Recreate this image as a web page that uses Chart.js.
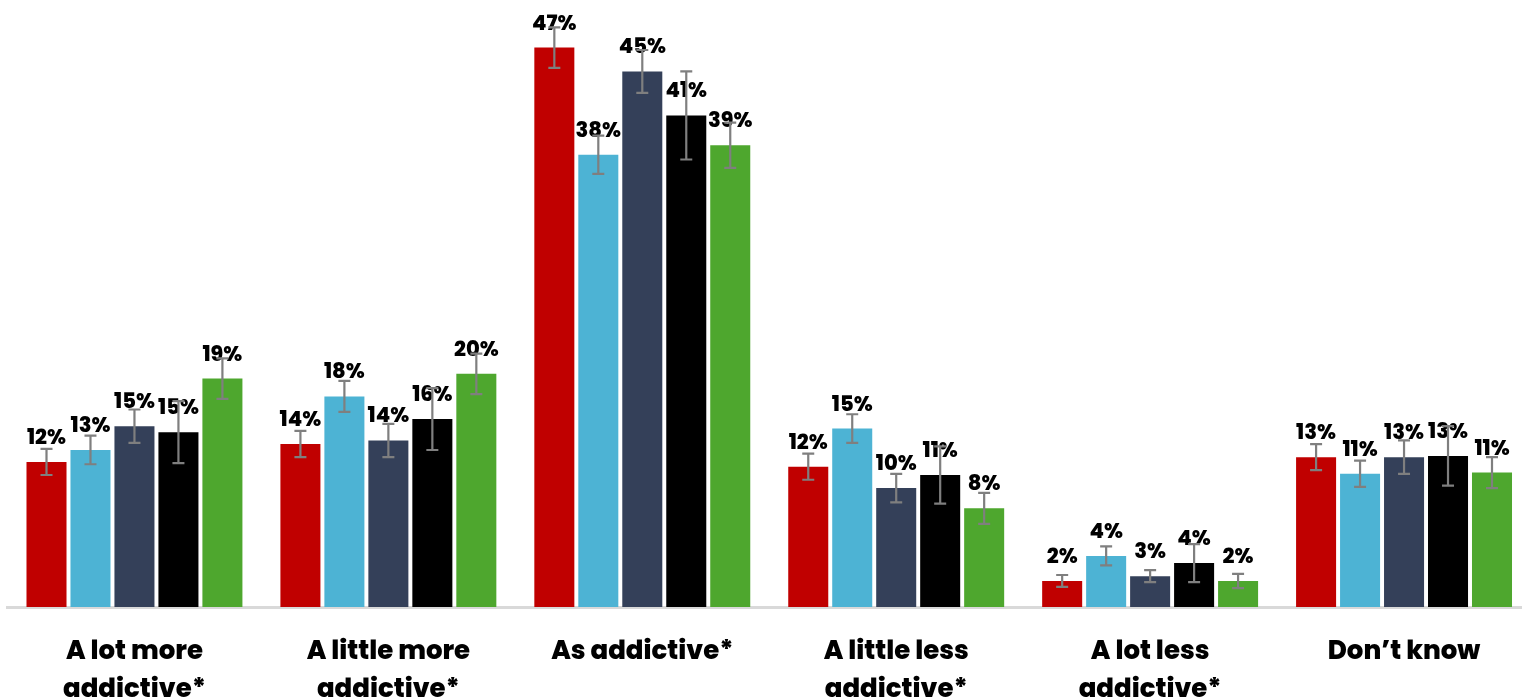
<!DOCTYPE html>
<html lang="en">
<head>
<meta charset="UTF-8">
<title>How addictive</title>
<style>
  * { margin: 0; padding: 0; box-sizing: border-box; }
  html, body { width: 1522px; height: 700px; overflow: hidden; background: #fff; }
  .wrap { position: relative; width: 1531px; height: 736px; }
</style>
<script src="https://cdn.jsdelivr.net/npm/chart.js"></script>
</head>
<body>
<div class="wrap"><canvas id="chart"></canvas></div>
<script>
// categories along the x axis
const categories = [
  ['A lot more', 'addictive*'],
  ['A little more', 'addictive*'],
  'As addictive*',
  ['A little less', 'addictive*'],
  ['A lot less', 'addictive*'],
  'Don\u2019t know'
];

// five groups, no legend in the original
const seriesNames = ['Group 1', 'Group 2', 'Group 3', 'Group 4', 'Group 5'];
const seriesColors = ['#C00000', '#4DB3D4', '#344059', '#000000', '#4EA72E'];

// bar heights (%)
const group1 = [12.2, 13.7, 47.0, 11.8, 2.2, 12.6];
const group2 = [13.2, 17.7, 38.0, 15.0, 4.3, 11.2];
const group3 = [15.2, 14.0, 45.0, 10.0, 2.6, 12.6];
const group4 = [14.7, 15.8, 41.3, 11.1, 3.7, 12.7];
const group5 = [19.2, 19.6, 38.8, 8.3, 2.2, 11.3];

// error margins (+/- %)
const err1 = [1.1, 1.1, 1.7, 1.1, 0.5, 1.1];
const err2 = [1.2, 1.3, 1.6, 1.2, 0.8, 1.1];
const err3 = [1.4, 1.4, 1.8, 1.2, 0.5, 1.4];
const err4 = [2.6, 2.6, 3.7, 2.4, 1.6, 2.5];
const err5 = [1.7, 1.7, 1.9, 1.3, 0.6, 1.3];

const values = [group1, group2, group3, group4, group5];
const errors = [err1, err2, err3, err4, err5];

const fontFamily = "'Poppins', 'Inter', sans-serif";

// labels + error bars drawn on top of the bars
const labelsAndErrors = {
  id: 'labelsAndErrors',
  afterDatasetsDraw(chart) {
    const ctx = chart.ctx;
    const y = chart.scales.y;
    ctx.save();
    ctx.fillStyle = '#000';
    ctx.font = '800 21px ' + fontFamily;
    ctx.textAlign = 'center';
    ctx.textBaseline = 'alphabetic';
    chart.data.datasets.forEach((ds, i) => {
      chart.getDatasetMeta(i).data.forEach((bar, j) => {
        ctx.fillText(Math.round(ds.data[j]) + '%', bar.x, bar.y - 18);
      });
    });
    ctx.strokeStyle = '#7f7f7f';
    ctx.lineWidth = 2.2;
    chart.data.datasets.forEach((ds, i) => {
      chart.getDatasetMeta(i).data.forEach((bar, j) => {
        const v = ds.data[j], e = errors[i][j];
        const top = y.getPixelForValue(v + e);
        const bot = y.getPixelForValue(v - e);
        ctx.beginPath();
        ctx.moveTo(bar.x, top); ctx.lineTo(bar.x, bot);
        ctx.moveTo(bar.x - 6, top); ctx.lineTo(bar.x + 6, top);
        ctx.moveTo(bar.x - 6, bot); ctx.lineTo(bar.x + 6, bot);
        ctx.stroke();
      });
    });
    ctx.restore();
  }
};

new Chart(document.getElementById('chart'), {
  type: 'bar',
  data: {
    labels: categories,
    datasets: seriesNames.map((name, i) => ({
      label: name,
      data: values[i],
      backgroundColor: seriesColors[i],
      categoryPercentage: 0.866,
      barPercentage: 0.91
    }))
  },
  options: {
    responsive: true,
    maintainAspectRatio: false,
    animation: false,
    layout: { padding: { left: 7.5, top: 0, right: 0, bottom: 0 } },
    plugins: { legend: { display: false }, tooltip: { enabled: false } },
    scales: {
      x: {
        grid: { display: false, drawTicks: false },
        border: { display: true, color: '#d9d9d9', width: 3 },
        ticks: {
          color: '#000',
          padding: 27,
          maxRotation: 0,
          autoSkip: false,
          font: { family: fontFamily, size: 26, weight: 800, lineHeight: 1.44 }
        }
      },
      y: { display: false, min: 0, max: 51 }
    }
  },
  plugins: [labelsAndErrors]
});
</script>
</body>
</html>
